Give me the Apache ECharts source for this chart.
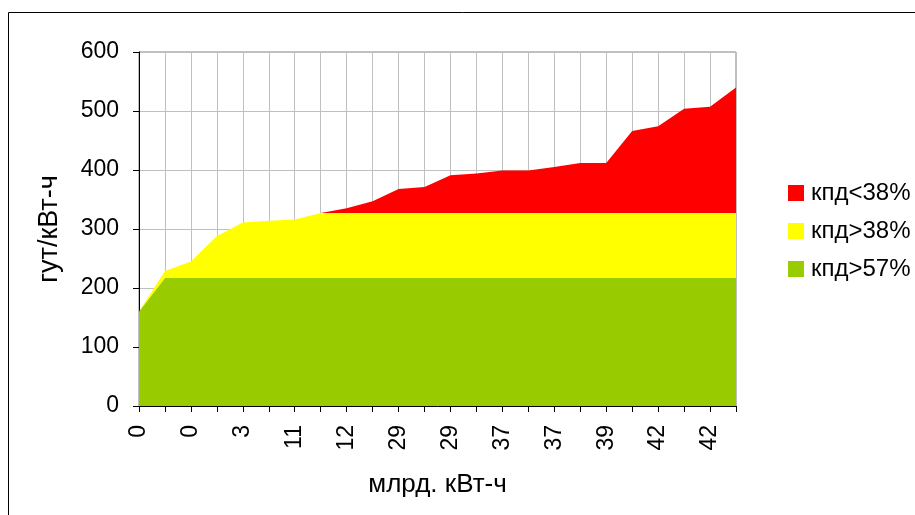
<!DOCTYPE html>
<html>
<head>
<meta charset="utf-8">
<script src="https://cdn.jsdelivr.net/npm/echarts@6/dist/echarts.min.js"></script>
<style>
html,body{margin:0;padding:0;background:#fff;}
#chart{width:915px;height:515px;}
</style>
</head>
<body>
<div id="chart"></div>
<script>
const categories = ['0','0','0','1','3','7','11','11','12','20','29','29','29','33','37','37','37','37','39','39','42','42','42','42'];
const greenValues = [160,217,217,217,217,217,217,217,217,217,217,217,217,217,217,217,217,217,217,217,217,217,217,217];
const yellowValues = [0,12,28,71,94,97,99,110,110,110,110,110,110,110,110,110,110,110,110,110,110,110,110,110];
const redValues = [0,0,0,0,0,0,0,0,8,20,41,44,64,67,72,72,78,85,85,139,147,177,180,213];
const seriesNames = ['кпд<38%','кпд>38%','кпд>57%'];
const yTicks = [0,100,200,300,400,500,600];

const chart = echarts.init(document.getElementById('chart'));
const font = 'Liberation Sans, Arial, sans-serif';
function area(name, data, color){
  return {
    name: name, type: 'line', stack: 'total', data: data,
    symbol: 'none', showSymbol: false,
    lineStyle: {width: 0}, itemStyle: {color: color},
    areaStyle: {color: color, opacity: 1}
  };
}
chart.setOption({
  animation: false,
  backgroundColor: '#fff',
  graphic: [{type:'rect', shape:{x:8.5,y:12.5,width:1000,height:600}, style:{fill:'none',stroke:'#000',lineWidth:1}, z:-1}],
  grid: {left:139, right:179, top:52, bottom:109, show:true, borderColor:'#808080', borderWidth:1},
  legend: {
    orient:'vertical', left:788, top:181, padding:0, itemWidth:16, itemHeight:16, itemGap:14,
    icon:'rect', data: seriesNames,
    textStyle:{fontFamily:font, fontSize:24, color:'#000', padding:[0,0,0,2]}
  },
  xAxis: {
    type:'category', data: categories, boundaryGap:false,
    name:'млрд. кВт-ч', nameLocation:'middle', nameGap:66,
    nameTextStyle:{fontFamily:font, fontSize:26, color:'#000'},
    axisLine:{lineStyle:{color:'#000', width:1}},
    axisTick:{show:true, interval:0, length:6, lineStyle:{color:'#000'}},
    axisLabel:{interval:1, rotate:90, margin:19, fontFamily:font, fontSize:23, color:'#000'},
    splitLine:{show:true, interval:0, lineStyle:{color:'#c0c0c0', width:1}}
  },
  yAxis: {
    type:'value', min:yTicks[0], max:yTicks[yTicks.length-1], interval:100,
    name:'гут/кВт-ч', nameLocation:'middle', nameGap:76,
    nameTextStyle:{fontFamily:font, fontSize:27, color:'#000'},
    axisLine:{show:true, lineStyle:{color:'#000', width:1}},
    axisTick:{show:true, length:6, lineStyle:{color:'#000'}},
    axisLabel:{margin:20, fontFamily:font, fontSize:23, color:'#000'},
    splitLine:{show:true, lineStyle:{color:'#c0c0c0', width:1}}
  },
  series: [
    area(seriesNames[2], greenValues, '#99CC00'),
    area(seriesNames[1], yellowValues, '#FFFF00'),
    area(seriesNames[0], redValues, '#FF0000')
  ]
});
</script>
</body>
</html>
